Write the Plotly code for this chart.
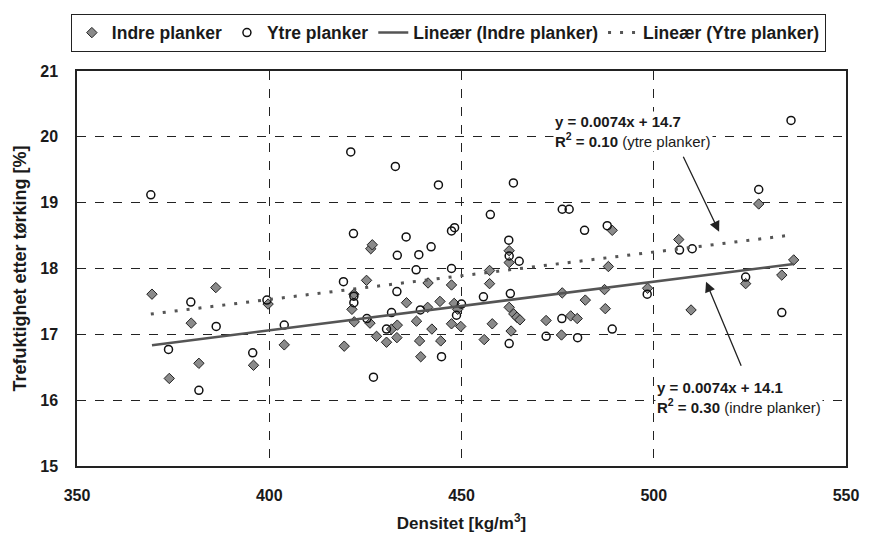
import plotly.graph_objects as go
import numpy as np

# ---- data ----
indre_x = [369.5, 374.0, 379.7, 381.7, 386.1, 395.9, 399.7, 403.9, 419.5, 421.5,
           422.0, 422.1, 425.3, 426.2, 426.4, 426.8, 427.9, 430.5, 431.8, 433.2,
           433.3, 435.7, 438.3, 439.1, 439.4, 441.2, 441.3, 442.3, 444.4, 444.6,
           447.4, 447.4, 448.1, 449.0, 449.8, 455.9, 457.3, 457.3, 458.0, 462.4,
           462.4, 462.4, 463.6, 464.4, 465.2, 462.9, 472.0, 476.0, 476.2, 478.4,
           480.1, 482.2, 487.2, 487.4, 488.2, 489.2, 498.4, 506.5, 509.7, 523.9,
           527.3, 533.3, 536.4]
indre_y = [17.61, 16.33, 17.17, 16.56, 17.71, 16.53, 17.46, 16.84, 16.82, 17.38,
           17.61, 17.19, 17.82, 17.17, 18.30, 18.36, 16.97, 16.88, 17.08, 16.95,
           17.14, 17.48, 17.20, 16.90, 16.66, 17.41, 17.78, 17.08, 17.50, 16.90,
           17.75, 17.16, 17.47, 17.38, 17.12, 16.92, 17.97, 17.77, 17.16, 18.27,
           18.09, 17.41, 17.31, 17.26, 17.22, 17.05, 17.21, 16.99, 17.63, 17.28,
           17.24, 17.52, 17.68, 17.39, 18.03, 18.58, 17.70, 18.44, 17.37, 17.77,
           18.98, 17.90, 18.13]

ytre_x = [369.2, 373.8, 379.6, 381.7, 386.2, 395.7, 399.4, 403.9, 419.3, 421.2,
          421.9, 422.0, 422.0, 425.4, 427.1, 430.5, 431.8, 432.8, 433.2, 433.3,
          435.6, 438.2, 438.9, 439.3, 442.1, 444.0, 444.8, 447.4, 447.4, 448.2,
          448.7, 450.0, 455.7, 457.5, 462.3, 462.4, 462.7, 462.4, 463.5, 465.0,
          472.0, 476.1, 476.2, 478.0, 480.2, 482.0, 487.9, 489.2, 498.3, 506.7,
          510.0, 523.9, 527.3, 533.3, 535.7]
ytre_y = [19.12, 16.77, 17.49, 16.15, 17.12, 16.72, 17.52, 17.14, 17.80, 19.77,
          18.53, 17.58, 17.48, 17.24, 16.35, 17.08, 17.33, 19.55, 17.65, 18.20,
          18.48, 17.98, 18.21, 17.37, 18.33, 19.27, 16.66, 18.00, 18.57, 18.62,
          17.29, 17.46, 17.57, 18.82, 18.43, 18.19, 17.62, 16.86, 19.30, 18.11,
          16.97, 17.24, 18.90, 18.90, 16.95, 18.58, 18.65, 17.08, 17.61, 18.28,
          18.30, 17.87, 19.20, 17.33, 20.25]

# trend line coefficients (slope, intercept) as drawn
indre_trend = (0.0074, 14.1)
ytre_trend = (0.0072, 14.65)

x_ticks = [350, 400, 450, 500, 550]
y_ticks = [15, 16, 17, 18, 19, 20, 21]

FONT = "Liberation Sans, Arial, sans-serif"
INK = "#1a1a1a"

fig = go.Figure()

fig.add_trace(go.Scatter(
    x=indre_x, y=indre_y, mode="markers", name="<b>Indre planker</b>",
    marker=dict(symbol="diamond", size=8, color="#8a8a8a",
                line=dict(color="#222", width=1))))
fig.add_trace(go.Scatter(
    x=ytre_x, y=ytre_y, mode="markers", name="<b>Ytre planker</b>",
    marker=dict(symbol="circle-open", size=8, color="#111",
                line=dict(color="#111", width=1.5))))

ix = np.array([min(indre_x), max(indre_x)])
fig.add_trace(go.Scatter(
    x=ix, y=indre_trend[0] * ix + indre_trend[1], mode="lines",
    name="<b>Lineær (Indre planker)</b>",
    line=dict(color="#555", width=2.5)))
yx = np.array([min(ytre_x), max(ytre_x)])
fig.add_trace(go.Scatter(
    x=yx, y=ytre_trend[0] * yx + ytre_trend[1], mode="lines",
    name="<b>Lineær (Ytre planker)</b>",
    line=dict(color="#555", width=3, dash="3px,9px")))

# equation annotations
fig.add_annotation(
    x=473.7, y=20.08, xref="x", yref="y", xanchor="left", yanchor="middle",
    text="<b>y = 0.0074x + 14.7</b><br><b>R<sup>2</sup> = 0.10</b> (ytre planker)",
    showarrow=False, align="left", bgcolor="white",
    font=dict(family=FONT, size=15, color=INK))
fig.add_annotation(
    x=500.3, y=16.04, xref="x", yref="y", xanchor="left", yanchor="middle",
    text="<b>y = 0.0074x + 14.1</b><br><b>R<sup>2</sup> = 0.30</b> (indre planker)",
    showarrow=False, align="left", bgcolor="white",
    font=dict(family=FONT, size=15, color=INK))

# arrows
fig.add_annotation(x=517.0, y=18.56, ax=507.5, ay=19.72, xref="x", yref="y",
                   axref="x", ayref="y", text="", showarrow=True,
                   arrowhead=2, arrowsize=1.6, arrowwidth=1.3, arrowcolor="#222")
fig.add_annotation(x=513.6, y=17.80, ax=522.9, ay=16.50, xref="x", yref="y",
                   axref="x", ayref="y", text="", showarrow=True,
                   arrowhead=2, arrowsize=1.6, arrowwidth=1.3, arrowcolor="#222")

fig.update_xaxes(
    range=[350, 550], tickvals=x_ticks, ticktext=[f"<b>{v}</b>" for v in x_ticks],
    showgrid=True, gridcolor="#222", griddash="dash", gridwidth=1,
    showline=True, mirror=True, linecolor="#222", linewidth=1.5,
    zeroline=False, ticks="", ticklabelstandoff=14,
    tickfont=dict(family=FONT, size=16, color=INK),
    title=dict(text="<b>Densitet [kg/m<sup>3</sup>]</b>", standoff=14,
               font=dict(family=FONT, size=17, color=INK)))
fig.update_yaxes(
    range=[15, 21], tickvals=y_ticks, ticktext=[f"<b>{v}</b>" for v in y_ticks],
    showgrid=True, gridcolor="#222", griddash="dash", gridwidth=1,
    showline=True, mirror=True, linecolor="#222", linewidth=1.5,
    zeroline=False, ticks="", ticklabelstandoff=14,
    tickfont=dict(family=FONT, size=16, color=INK),
    title=dict(text="<b>Trefuktighet etter tørking [%]</b>", standoff=9,
               font=dict(family=FONT, size=18, color=INK)))

fig.update_layout(
    width=871, height=542,
    margin=dict(l=77, r=18, t=71, b=75),
    paper_bgcolor="white", plot_bgcolor="white",
    font=dict(family=FONT, color=INK),
    showlegend=True,
    legend=dict(orientation="h", x=-0.008, y=1.145, xanchor="left", yanchor="top",
                bgcolor="white", bordercolor="#222", borderwidth=1,
                font=dict(family=FONT, size=17.5, color=INK),
                itemwidth=30, tracegroupgap=0),
)

fig.write_html("out.html")
